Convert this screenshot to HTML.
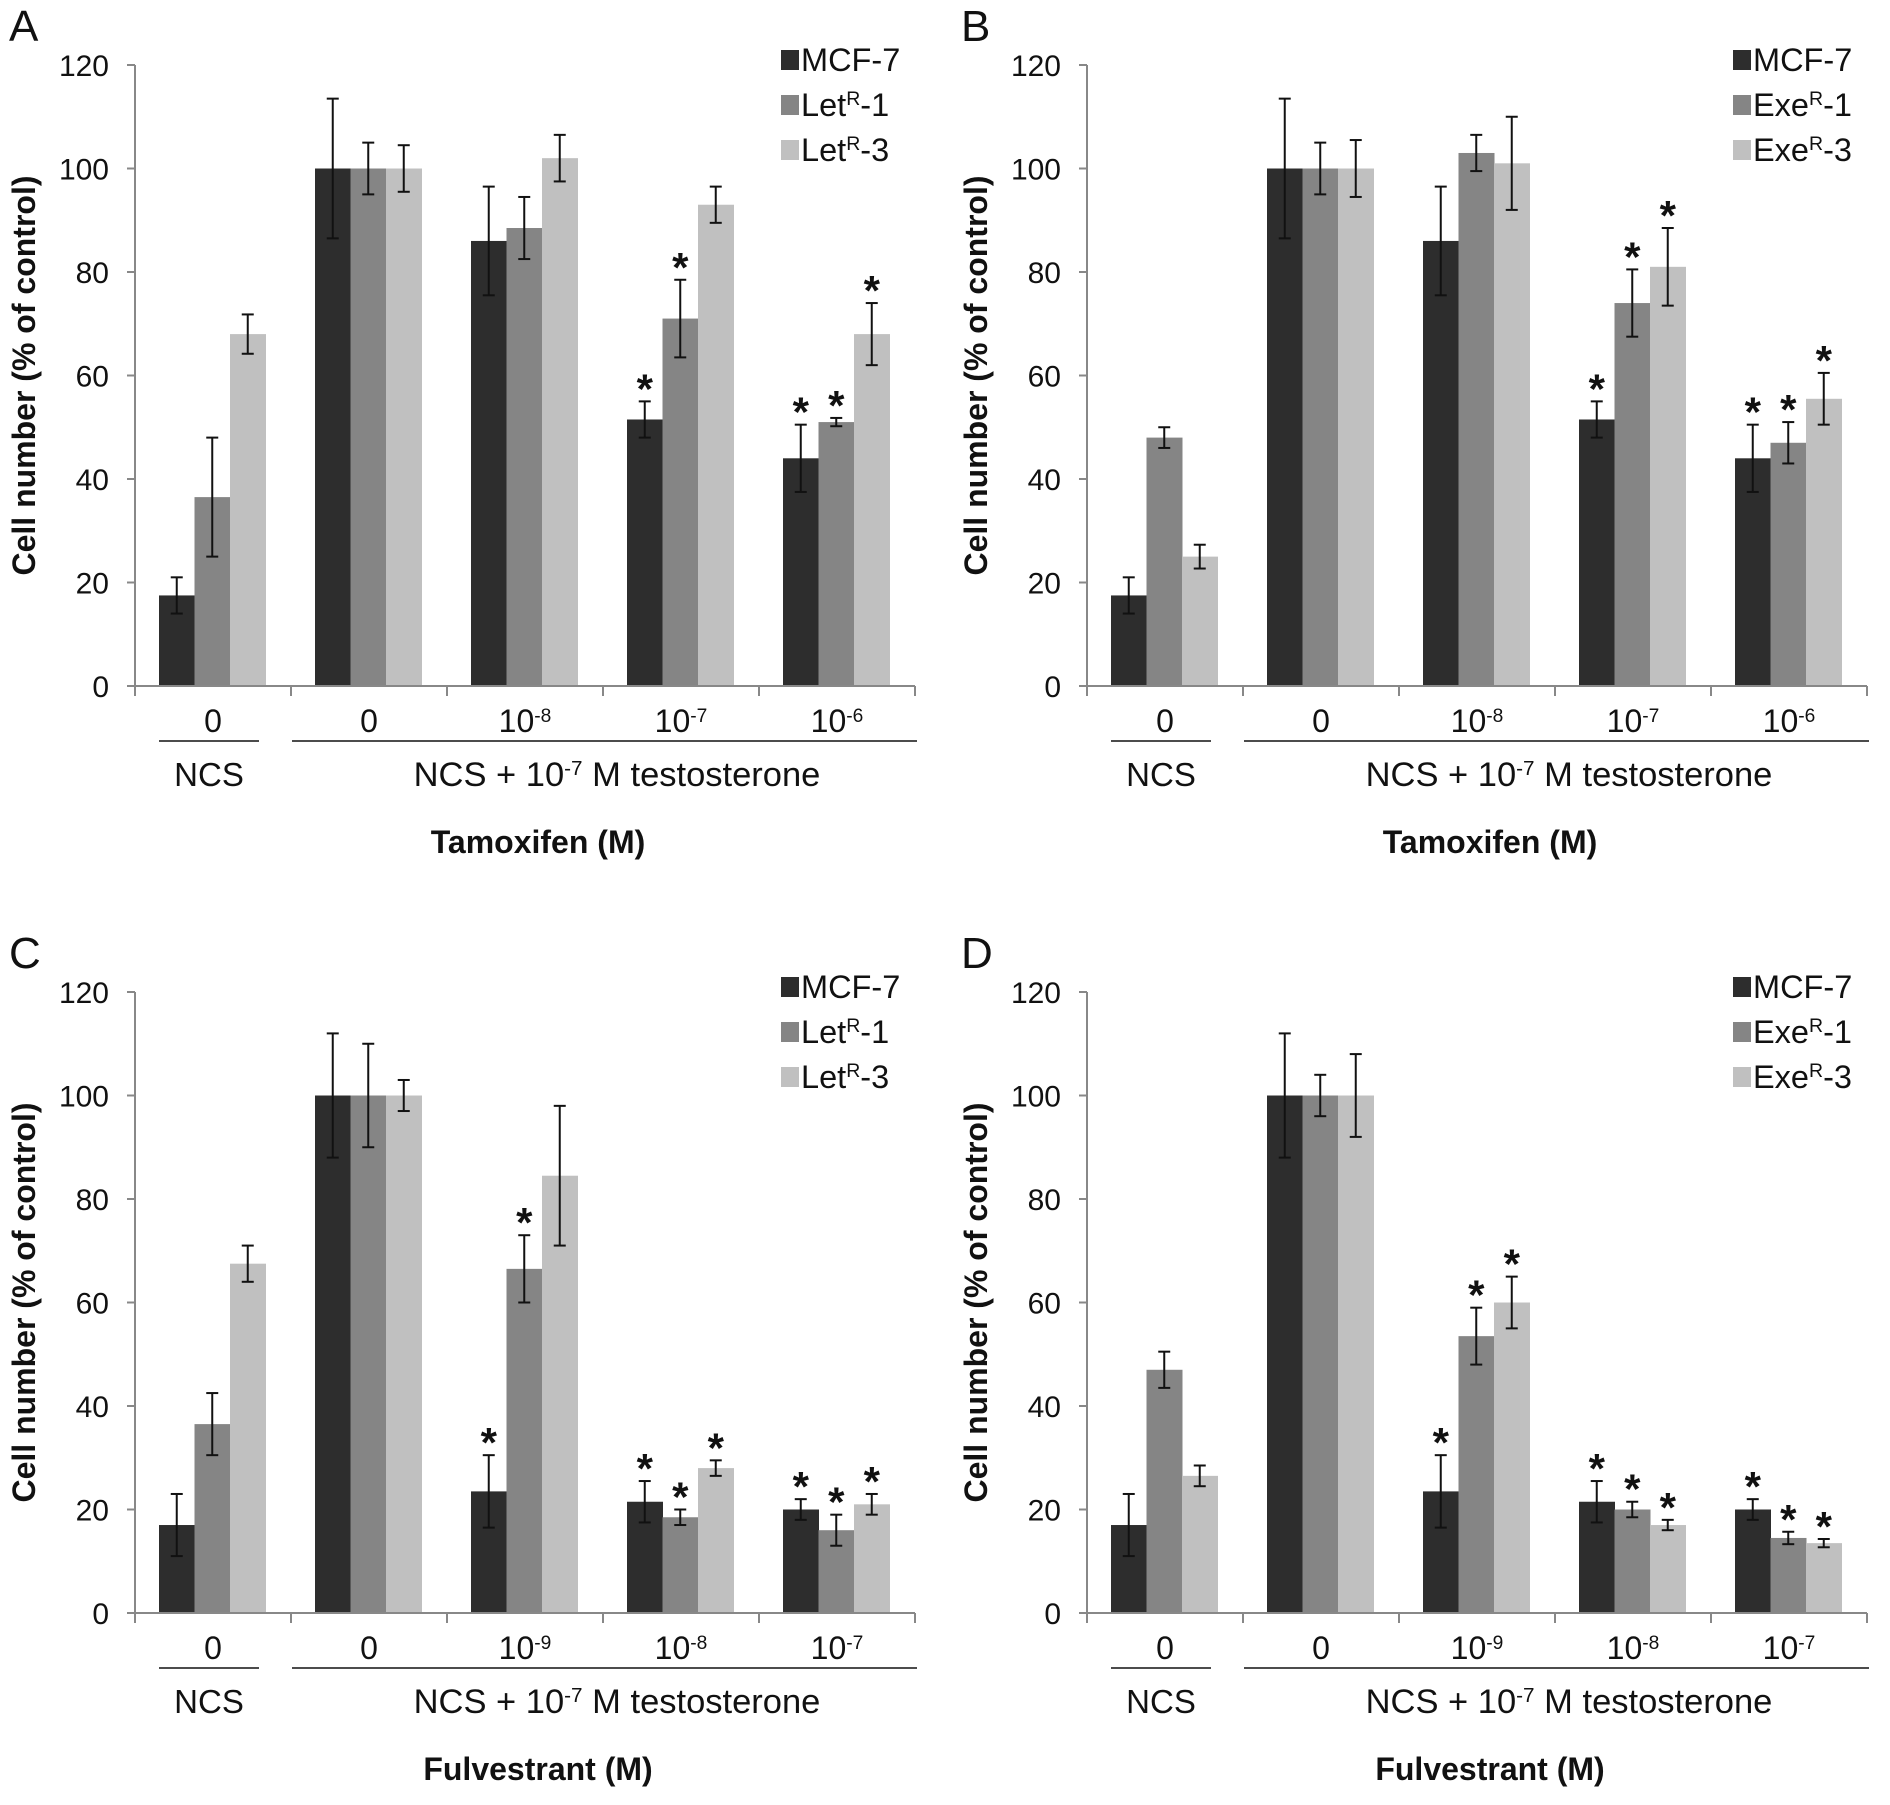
<!DOCTYPE html>
<html><head><meta charset="utf-8"><style>
html,body{margin:0;padding:0;background:#fff}
svg{display:block;font-family:"Liberation Sans",Arial,sans-serif}
</style></head><body>
<svg id="fig" width="1890" height="1805" viewBox="0 0 1890 1805" xmlns="http://www.w3.org/2000/svg"></svg>
<script>
// ---- data ----
const yTicks = [0,20,40,60,80,100,120];
const catsTam = ["0","0","10|-8","10|-7","10|-6"];
const catsFul = ["0","0","10|-9","10|-8","10|-7"];
const seriesNamesA = ["MCF-7","Let|R|-1","Let|R|-3"];
const seriesNamesB = ["MCF-7","Exe|R|-1","Exe|R|-3"];
const A_mcf = [17.5,100,86,51.5,44];  const A_mcfErr = [3.5,13.5,10.5,3.5,6.5];
const A_s1 = [36.5,100,88.5,71,51];   const A_s1Err = [11.5,5,6,7.5,0.8];
const A_s2 = [68,100,102,93,68];      const A_s2Err = [3.8,4.5,4.5,3.5,6];
const A_stars = [[0,0,0,1,1],[0,0,0,1,1],[0,0,0,0,1]];
const B_mcf = [17.5,100,86,51.5,44];  const B_mcfErr = [3.5,13.5,10.5,3.5,6.5];
const B_s1 = [48,100,103,74,47];      const B_s1Err = [2,5,3.5,6.5,4];
const B_s2 = [25,100,101,81,55.5];    const B_s2Err = [2.3,5.5,9,7.5,5];
const B_stars = [[0,0,0,1,1],[0,0,0,1,1],[0,0,0,1,1]];
const C_mcf = [17,100,23.5,21.5,20];  const C_mcfErr = [6,12,7,4,2];
const C_s1 = [36.5,100,66.5,18.5,16]; const C_s1Err = [6,10,6.5,1.5,3];
const C_s2 = [67.5,100,84.5,28,21];   const C_s2Err = [3.5,3,13.5,1.5,2];
const C_stars = [[0,0,1,1,1],[0,0,1,1,1],[0,0,0,1,1]];
const D_mcf = [17,100,23.5,21.5,20];  const D_mcfErr = [6,12,7,4,2];
const D_s1 = [47,100,53.5,20,14.5];   const D_s1Err = [3.5,4,5.5,1.5,1.2];
const D_s2 = [26.5,100,60,17,13.5];   const D_s2Err = [2,8,5,1,0.8];
const D_stars = [[0,0,1,1,1],[0,0,1,1,1],[0,0,1,1,1]];

const NS="http://www.w3.org/2000/svg";
const svg=document.getElementById('fig');
const colors=["#2d2d2d","#858585","#c0c0c0"];
function mk(tag,attrs,parent){const e=document.createElementNS(NS,tag);for(const k in attrs)e.setAttribute(k,attrs[k]);(parent||svg).appendChild(e);return e;}
function supText(parent,x,y,str,size,anchor,weight){
  const t=mk('text',{x:x,y:y,'font-size':size,'text-anchor':anchor||'middle',fill:'#111','font-weight':weight||'normal'},parent);
  const parts=str.split('|');
  parts.forEach((p,i)=>{const s=mk('tspan',{},t);s.textContent=p;
    if(i===1){s.setAttribute('baseline-shift','super');s.setAttribute('font-size',size*0.6);}});
  return t;
}
function panel(letter,ox,oy,cats,names,series,errs,stars,xtitle){
  const g=mk('g',{});
  
  
  const H=621, ymax=120, catW=156, barW=35.5, off=24;
  const Y=v=>oy-v/ymax*H;
  const X=(c,s)=>ox+c*catW+off+s*barW;
  const L=mk('text',{x:ox-126,y:oy-645,'font-size':44,fill:'#111'},g);L.textContent=letter;
  
  const ya=mk('line',{x1:ox,y1:Y(0),x2:ox,y2:Y(120),stroke:'#888','stroke-width':2},g);
  
  yTicks.forEach(v=>{
    mk('line',{x1:ox-8,y1:Y(v),x2:ox,y2:Y(v),stroke:'#888','stroke-width':2},g);
    const t=mk('text',{x:ox-26,y:Y(v)+11,'font-size':30,'text-anchor':'end',fill:'#111'},g);t.textContent=v;
    
  });
  const yt=mk('text',{x:0,y:0,'font-size':32,'font-weight':'bold','text-anchor':'middle',fill:'#111',transform:`translate(${ox-100},${(Y(0)+Y(120))/2}) rotate(-90)`},g);
  yt.textContent='Cell number (% of control)';
  
  series.forEach((arr,s)=>{arr.forEach((v,c)=>{
    const r=mk('rect',{x:X(c,s),y:Y(v),width:barW+0.5,height:Y(0)-Y(v),fill:colors[s]},g);
    
    const cx=X(c,s)+barW/2, e=errs[s][c];
    mk('line',{x1:cx,y1:Y(v+e),x2:cx,y2:Y(v-e),stroke:'#111','stroke-width':2},g);
    mk('line',{x1:cx-6,y1:Y(v+e),x2:cx+6,y2:Y(v+e),stroke:'#111','stroke-width':2},g);
    mk('line',{x1:cx-6,y1:Y(v-e),x2:cx+6,y2:Y(v-e),stroke:'#111','stroke-width':2},g);
    if(stars[s][c]){const st=mk('text',{x:cx,y:Y(v+e)+2,'font-size':42,'font-weight':'bold','text-anchor':'middle',fill:'#111'},g);st.textContent='*';
      }
  });});
  const xa=mk('line',{x1:ox,y1:Y(0),x2:ox+5*catW,y2:Y(0),stroke:'#888','stroke-width':2},g);
  
  for(let i=0;i<=5;i++)mk('line',{x1:ox+i*catW,y1:Y(0),x2:ox+i*catW,y2:Y(0)+10,stroke:'#888','stroke-width':2},g);
  cats.forEach((c,i)=>{const t=supText(g,ox+i*catW+catW/2,oy+46,c,32);
    });
  mk('line',{x1:ox+24,y1:oy+55,x2:ox+124,y2:oy+55,stroke:'#111','stroke-width':1.5},g);
  mk('line',{x1:ox+157,y1:oy+55,x2:ox+782,y2:oy+55,stroke:'#111','stroke-width':1.5},g);
  const n1=supText(g,ox+74,oy+100,'NCS',33);
  const n2=supText(g,ox+482,oy+100,'NCS + 10|-7| M testosterone',34.5);
  const xt=mk('text',{x:ox+403,y:oy+167,'font-size':32,'font-weight':'bold','text-anchor':'middle',fill:'#111'},g);xt.textContent=xtitle;
  
  names.forEach((n,i)=>{
    const ly=oy-626+i*45;
    const sq=mk('rect',{x:ox+646,y:ly-10,width:18,height:20,fill:colors[i]},g);
    
    const t=supText(g,ox+666,ly+11,n,32.5,'start');
    
  });
}
panel('A',135,686,catsTam,seriesNamesA,[A_mcf,A_s1,A_s2],[A_mcfErr,A_s1Err,A_s2Err],A_stars,'Tamoxifen (M)');
panel('B',1087,686,catsTam,seriesNamesB,[B_mcf,B_s1,B_s2],[B_mcfErr,B_s1Err,B_s2Err],B_stars,'Tamoxifen (M)');
panel('C',135,1613,catsFul,seriesNamesA,[C_mcf,C_s1,C_s2],[C_mcfErr,C_s1Err,C_s2Err],C_stars,'Fulvestrant (M)');
panel('D',1087,1613,catsFul,seriesNamesB,[D_mcf,D_s1,D_s2],[D_mcfErr,D_s1Err,D_s2Err],D_stars,'Fulvestrant (M)');
</script>
</body></html>
